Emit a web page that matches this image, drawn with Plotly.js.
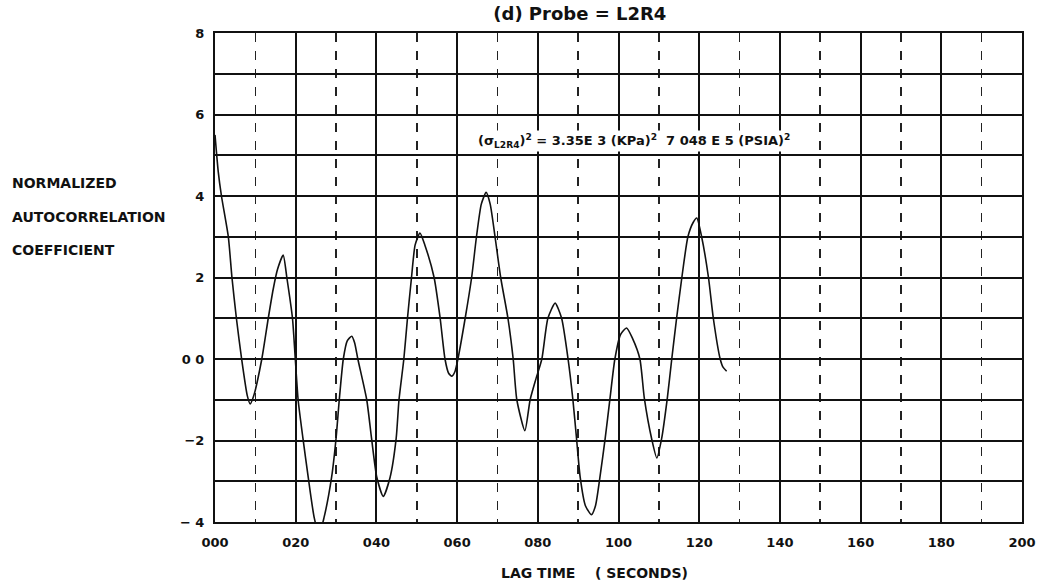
<!DOCTYPE html>
<html>
<head>
<meta charset="utf-8">
<script src="https://cdn.plot.ly/plotly-3.0.1.min.js"></script>
<style>html,body{margin:0;padding:0;background:#fff;}#chart{width:1041px;height:582px;}</style>
</head>
<body>
<div id="chart"></div>
<script>
// Lag time (seconds) and normalized autocorrelation coefficient
const lagTime = [0, 0.8, 1.6, 3.3, 4.2, 5.3, 6.6, 8.0, 8.7, 9.6, 11.6, 13.2, 14.4, 15.5, 16.9, 17.8, 19.2, 19.9, 20.6, 21.8, 23.1, 24.6, 25.8, 27.0, 28.9, 30.0, 30.8, 31.8, 32.8, 33.9, 34.6, 35.4, 37.6, 38.8, 40.1, 41.7, 43.4, 44.9, 45.6, 46.8, 47.7, 48.7, 49.6, 50.8, 52.0, 54.3, 55.8, 57.0, 57.9, 58.7, 59.5, 60.2, 62.0, 63.6, 64.8, 66.0, 67.2, 68.2, 69.4, 70.8, 72.6, 73.9, 74.8, 76.8, 78.1, 79.5, 81.0, 82.5, 84.3, 85.9, 87.5, 88.7, 89.6, 90.5, 91.8, 93.3, 94.3, 95.4, 96.7, 97.9, 99.1, 100.5, 102.0, 103.5, 105.3, 106.4, 108.2, 109.5, 110.7, 112.1, 113.2, 114.4, 115.7, 117.2, 118.5, 119.4, 120.6, 122.3, 123.5, 125.2, 125.9, 126.8];
const coeff = [5.5, 4.6, 4.0, 3.0, 2.0, 1.0, 0.0, -0.9, -1.1, -0.9, 0.0, 1.0, 1.7, 2.2, 2.55, 2.0, 1.0, 0.0, -1.0, -1.95, -2.9, -3.9, -4.3, -3.9, -2.9, -1.95, -1.0, 0.0, 0.45, 0.56, 0.4, 0.0, -1.0, -1.95, -2.9, -3.37, -2.9, -1.95, -1.0, 0.0, 1.0, 2.0, 2.8, 3.09, 2.8, 2.0, 1.0, 0.0, -0.35, -0.42, -0.3, 0.0, 1.0, 2.0, 3.0, 3.8, 4.09, 3.8, 3.0, 2.0, 1.0, 0.0, -1.0, -1.76, -1.0, -0.5, 0.0, 1.0, 1.37, 1.0, 0.0, -1.0, -1.95, -2.9, -3.6, -3.82, -3.6, -2.9, -1.95, -0.96, 0.0, 0.6, 0.76, 0.5, 0.0, -0.96, -1.95, -2.43, -1.95, -0.96, 0.0, 1.0, 2.0, 3.0, 3.35, 3.46, 3.0, 2.0, 1.0, 0.0, -0.2, -0.3];

const xTickVals = [0, 20, 40, 60, 80, 100, 120, 140, 160, 180, 200];
const xTickText = ["000", "020", "040", "060", "080", "100", "120", "140", "160", "180", "200"];
const yTickVals = [-4, -2, 0, 2, 4, 6, 8];
const yTickText = ["\u2212 4", "\u22122", "0 0", "2", "4", "6", "8"];

const FONT = "DejaVu Sans, Liberation Sans, Arial, sans-serif";

const trace = {
  x: lagTime, y: coeff, type: "scatter", mode: "lines",
  line: {color: "#111", width: 1.6, shape: "spline", smoothing: 0.6},
  hoverinfo: "skip", showlegend: false
};

const layout = {
  width: 1041, height: 582,
  margin: {l: 215, r: 19, t: 33, b: 60},
  paper_bgcolor: "#fff", plot_bgcolor: "#fff",
  font: {family: FONT, color: "#111", size: 13, weight: "bold"},
  title: {
    text: "(d) Probe = L2R4",
    font: {family: FONT, size: 18, color: "#111", weight: "bold"},
    xref: "container", yref: "container", x: 0.557, y: 0.976,
    xanchor: "center", yanchor: "middle"
  },
  xaxis: {
    range: [0, 200], tickmode: "array", tickvals: xTickVals, ticktext: xTickText,
    showgrid: true, gridcolor: "#111", gridwidth: 2,
    minor: {dtick: 10, showgrid: true, gridcolor: "#222", gridwidth: 1.6, griddash: "dash", ticks: ""},
    showline: true, linecolor: "#111", linewidth: 2, mirror: true,
    ticks: "", ticklabelstandoff: 7, zeroline: false,
    tickfont: {family: FONT, size: 13, color: "#111", weight: "bold"},
    fixedrange: true
  },
  yaxis: {
    range: [-4, 8], tickmode: "array", tickvals: yTickVals, ticktext: yTickText,
    showgrid: true, gridcolor: "#111", gridwidth: 2,
    minor: {dtick: 1, showgrid: true, gridcolor: "#111", gridwidth: 2, ticks: ""},
    showline: true, linecolor: "#111", linewidth: 2, mirror: true,
    ticks: "", ticklabelstandoff: 6, zeroline: false,
    tickfont: {family: FONT, size: 13, color: "#111", weight: "bold"},
    fixedrange: true
  },
  annotations: [
    {text: "(\u03c3<sub>L2R4</sub>)<sup>2</sup> = 3.35E 3 (KPa)<sup>2</sup>  7 048 E 5 (PSIA)<sup>2</sup>",
     xref: "paper", yref: "paper", x: 0.519, y: 0.78, xanchor: "center", yanchor: "middle",
     showarrow: false, bgcolor: "#fff", font: {family: FONT, size: 13, color: "#111", weight: "bold"}},
    {text: "NORMALIZED", xref: "paper", yref: "paper", x: -0.254, y: 0.693, xanchor: "left", yanchor: "middle",
     showarrow: false, font: {family: FONT, size: 14, color: "#111", weight: "bold"}},
    {text: "AUTOCORRELATION", xref: "paper", yref: "paper", x: -0.254, y: 0.624, xanchor: "left", yanchor: "middle",
     showarrow: false, font: {family: FONT, size: 14, color: "#111", weight: "bold"}},
    {text: "COEFFICIENT", xref: "paper", yref: "paper", x: -0.254, y: 0.556, xanchor: "left", yanchor: "middle",
     showarrow: false, font: {family: FONT, size: 14, color: "#111", weight: "bold"}},
    {text: "LAG TIME", xref: "paper", yref: "paper", x: 0.400, y: -0.104, xanchor: "center", yanchor: "middle",
     showarrow: false, font: {family: FONT, size: 14, color: "#111", weight: "bold"}},
    {text: "( SECONDS)", xref: "paper", yref: "paper", x: 0.529, y: -0.104, xanchor: "center", yanchor: "middle",
     showarrow: false, font: {family: FONT, size: 14, color: "#111", weight: "bold"}}
  ]
};

Plotly.newPlot("chart", [trace], layout, {staticPlot: true, displayModeBar: false});
</script>
</body>
</html>
